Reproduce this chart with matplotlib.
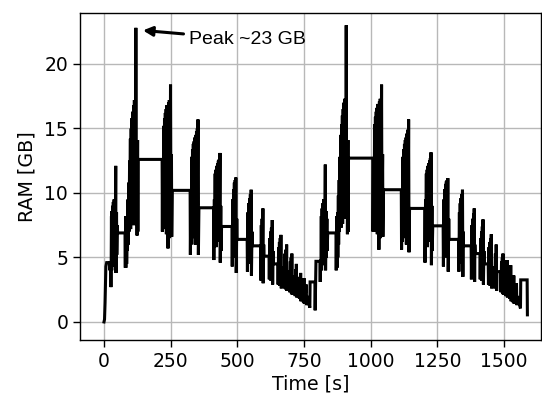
import matplotlib
matplotlib.use("Agg")
import matplotlib.pyplot as plt
import numpy as np

# ---- data: run 1 (time in s, RAM in GB) ----
t_run1 = [0, 2, 4, 7, 10, 21, 22, 23, 25, 26, 27,
          28, 29, 30, 31, 32, 33, 35, 36, 38, 39, 41, 42, 44, 45, 47, 48, 50, 51,
          79, 80,
          81, 82, 84, 85, 87, 88, 90, 91, 93, 94, 96, 97, 99, 100, 102, 103, 105, 106,
          108, 109, 111, 112, 114, 115, 117, 118, 119.5, 121, 123, 124, 126, 127, 128,
          218, 219, 220, 222, 224, 225, 227, 228, 230, 231, 233, 234, 236, 237, 239, 240,
          242, 243, 245, 246, 248, 249.5, 251, 253, 254, 256,
          323, 324, 326, 327, 329, 330, 332, 333, 335, 336, 338, 339, 341, 342, 344, 345,
          347, 348, 350, 351, 352.5, 354, 356,
          411, 412, 414, 415, 417, 418, 420, 421, 423, 424, 426, 427, 429, 430, 432, 433,
          435, 436, 438, 439, 441,
          480, 481, 483, 484, 486, 487, 489, 490, 492, 493, 494.5, 496, 498, 499,
          537, 538, 540, 541, 543, 544, 546, 547, 549, 550, 552, 553, 555, 556,
          588, 589, 590, 591, 593, 594, 596, 597, 599, 600,
          619, 620, 622, 623, 625, 626, 628, 629, 631, 632.5, 634, 635,
          652, 653, 655, 656, 658, 659, 661, 662, 663.5, 665, 666,
          676, 677, 679, 680, 682, 683, 685, 686, 688,
          696, 697, 699, 700, 702, 703, 704.5, 706, 707,
          716, 717, 719, 720, 721.5, 723, 724,
          732, 733, 735, 736, 737.5, 739, 740,
          747, 748, 750, 751.5, 752, 757, 758.5, 760, 762, 767, 770, 772, 773, 791]
ram_run1 = [0.0, 0.2, 1.5, 4.3, 4.6, 4.6, 4.0, 4.6, 4.6, 2.7, 4.6,
            8.2, 4.0, 8.6, 4.3, 9.0, 4.5, 9.3, 5.0, 9.5, 4.8, 8.8, 5.5, 12.1, 3.8, 8.5, 5.2, 7.5, 6.9,
            6.9, 4.2,
            8.2, 4.2, 8.0, 4.5, 7.5, 5.5, 9.5, 6.0, 10.8, 7.0, 12.5, 8.2, 14.2, 7.2, 15.0, 8.5, 15.8, 7.8,
            16.3, 8.8, 16.8, 7.5, 17.2, 9.5, 16.0, 8.0, 22.8, 8.5, 13.0, 6.7, 14.1, 7.0, 12.6,
            12.6, 7.0, 12.5, 7.5, 15.2, 8.0, 15.8, 7.2, 16.2, 8.5, 16.5, 6.8, 16.8, 9.0, 16.2, 5.7,
            17.0, 8.0, 17.2, 6.5, 9.0, 18.4, 7.5, 13.0, 6.6, 10.2,
            10.2, 5.2, 10.0, 6.0, 12.8, 7.5, 13.4, 6.5, 13.8, 8.0, 14.0, 7.0, 14.3, 6.0, 14.5, 8.5,
            14.8, 7.2, 15.0, 9.0, 15.7, 5.2, 8.85,
            8.85, 4.8, 9.5, 6.0, 11.5, 7.0, 11.8, 5.8, 12.1, 7.5, 12.3, 6.2, 12.5, 8.0, 12.6, 6.5,
            13.1, 4.6, 9.0, 5.5, 7.4,
            7.4, 4.3, 9.5, 5.5, 10.3, 6.5, 10.8, 5.0, 11.0, 7.0, 11.2, 3.8, 8.0, 6.4,
            6.4, 3.9, 8.5, 5.0, 9.2, 6.0, 9.6, 4.5, 9.9, 6.5, 10.25, 3.6, 7.0, 5.9,
            5.9, 3.2, 7.5, 4.0, 8.0, 3.5, 8.8, 3.0, 6.0, 5.1,
            5.1, 3.3, 6.5, 3.8, 7.0, 3.2, 7.3, 4.0, 7.9, 2.9, 5.5, 4.5,
            4.5, 2.9, 5.8, 3.3, 6.2, 2.8, 6.5, 3.5, 6.75, 2.6, 4.2,
            4.2, 2.6, 5.3, 2.9, 5.6, 2.5, 6.0, 2.4, 3.9,
            3.9, 2.3, 4.7, 2.6, 5.0, 2.2, 5.3, 2.1, 3.5,
            3.5, 2.0, 4.1, 2.3, 4.5, 1.9, 3.2,
            3.0, 1.8, 3.5, 2.0, 3.8, 1.6, 2.8,
            2.6, 1.5, 3.4, 1.4, 2.5, 2.3, 2.9, 1.3, 2.0, 1.7, 1.3, 1.1, 3.1, 3.1]

# ---- data: run 2 ----
t_run2 = [792, 795, 810, 811, 812, 814,
          815, 816, 818, 819, 821, 822, 824, 825, 827, 828, 830, 831, 833, 834, 836, 837, 839,
          870, 871,
          873, 874, 876, 877, 879, 880, 882, 883, 885, 886, 888, 889, 891, 892, 894, 895,
          897, 898, 900, 901, 903, 904, 906, 907, 908.5, 910, 912, 913, 915, 916, 917,
          1008, 1009, 1011, 1013, 1015, 1016, 1018, 1019, 1021, 1022, 1024, 1025, 1027, 1028,
          1030, 1031, 1033, 1034, 1036, 1037, 1039, 1041, 1042.5, 1045, 1046, 1048,
          1115, 1116, 1118, 1119, 1121, 1122, 1124, 1125, 1127, 1128, 1130, 1131, 1133, 1134,
          1136, 1137, 1139, 1141, 1142.5, 1144, 1146,
          1203, 1204, 1206, 1207, 1209, 1210, 1212, 1213, 1215, 1216, 1218, 1219, 1221, 1222,
          1224, 1225, 1226.5, 1228, 1230, 1231, 1233,
          1272, 1273, 1275, 1276, 1278, 1279, 1281, 1282, 1284, 1285, 1287, 1288, 1289.5, 1291, 1293, 1294,
          1330, 1331, 1333, 1334, 1336, 1337, 1339, 1340, 1342, 1343, 1344.5, 1346, 1347, 1348,
          1377, 1378, 1380, 1381, 1383, 1384, 1386, 1387, 1388.5, 1390, 1391, 1392,
          1410, 1411, 1413, 1414, 1416, 1417, 1419, 1420, 1421.5, 1423, 1425, 1427,
          1441, 1442, 1444, 1445, 1447, 1448, 1450, 1451, 1452.5, 1454, 1456,
          1465, 1466, 1468, 1469, 1471, 1472.5, 1474,
          1488, 1489, 1491, 1492, 1494, 1495, 1496.5, 1498, 1499,
          1506, 1507, 1509, 1510, 1511.5, 1513, 1514,
          1520, 1521, 1523, 1524, 1525.5, 1527, 1528,
          1534, 1535, 1537, 1538.5, 1540, 1545, 1547, 1548.5, 1550, 1555, 1559, 1562, 1563, 1587, 1588]
ram_run2 = [0.9, 4.7, 4.7, 3.1, 4.7, 4.7,
            8.2, 4.0, 8.8, 4.4, 9.2, 5.0, 9.5, 4.6, 9.0, 5.5, 12.2, 4.0, 8.6, 5.0, 8.0, 5.5, 6.9,
            6.9, 4.0,
            8.2, 4.2, 8.5, 5.0, 9.8, 6.0, 11.0, 7.0, 12.8, 8.0, 14.5, 7.3, 15.3, 8.5, 16.0, 7.6,
            16.5, 9.0, 17.0, 8.2, 17.3, 9.5, 15.5, 8.0, 23.0, 8.5, 13.0, 6.8, 14.1, 7.0, 12.7,
            12.7, 7.0, 12.5, 7.5, 15.3, 8.0, 15.9, 7.0, 16.3, 8.5, 16.6, 6.8, 16.9, 9.0,
            16.4, 5.6, 17.1, 8.0, 17.3, 6.5, 9.0, 18.4, 7.5, 13.0, 6.6, 10.25,
            10.25, 5.6, 10.2, 6.2, 12.8, 7.5, 13.4, 6.5, 13.8, 8.0, 14.1, 7.0, 14.3, 6.0,
            14.6, 8.5, 14.9, 9.0, 15.7, 5.4, 8.8,
            8.8, 4.6, 9.5, 6.0, 11.5, 7.0, 11.8, 5.8, 12.1, 7.5, 12.3, 6.2, 12.5, 8.0,
            12.7, 6.5, 13.15, 4.4, 9.0, 5.5, 7.45,
            7.45, 4.3, 9.5, 5.5, 10.3, 6.5, 10.7, 5.0, 10.9, 7.0, 11.0, 6.0, 11.15, 3.9, 8.0, 6.4,
            6.4, 3.9, 8.5, 5.0, 9.2, 6.0, 9.6, 4.5, 9.9, 6.5, 10.25, 3.5, 7.0, 5.9,
            5.9, 3.3, 7.5, 4.0, 8.0, 3.5, 8.4, 4.0, 8.8, 3.1, 6.0, 5.3,
            5.3, 3.3, 6.5, 3.8, 7.0, 3.2, 7.4, 4.0, 7.95, 2.9, 5.5, 4.5,
            4.5, 2.9, 5.8, 3.3, 6.2, 2.8, 6.5, 3.5, 6.8, 2.6, 4.2,
            4.2, 2.6, 5.3, 2.9, 6.0, 2.4, 3.9,
            3.9, 2.3, 4.7, 2.6, 5.0, 2.2, 5.3, 2.1, 3.5,
            3.4, 2.0, 4.3, 2.3, 4.8, 1.9, 3.2,
            3.0, 1.8, 4.0, 2.0, 4.4, 1.6, 2.8,
            2.6, 1.5, 3.6, 1.4, 2.5, 2.3, 3.0, 1.3, 2.0, 1.7, 1.3, 1.05, 3.26, 3.26, 0.55]

x_ticks = [0, 250, 500, 750, 1000, 1250, 1500]
y_ticks = [0, 5, 10, 15, 20]
peak_label = "Peak ~23 GB"
peak_xy = (146, 22.6)
peak_text_xy = (319, 21.9)

assert len(t_run1) == len(ram_run1), (len(t_run1), len(ram_run1))
assert len(t_run2) == len(ram_run2), (len(t_run2), len(ram_run2))

time = np.concatenate([t_run1, t_run2])
ram = np.concatenate([ram_run1, ram_run2])

plt.rcParams['font.family'] = ['DejaVu Sans']
fig = plt.figure(figsize=(5.42, 3.95), dpi=100)
ax = fig.add_axes([80 / 542, 55 / 395, 461 / 542, 327 / 395])

ax.plot(time, ram, color='black', lw=2.2, solid_joinstyle='miter')
ax.set_xlim(-90, 1639)
ax.set_ylim(-1.4, 23.95)
ax.set_xticks(x_ticks)
ax.set_yticks(y_ticks)
ax.grid(True, color='#b8b8b8', lw=1.0)
ax.set_axisbelow(True)
ax.tick_params(labelsize=13.5, length=5, width=1.0)
for s in ax.spines.values():
    s.set_linewidth(1.0)
ax.set_xlabel("Time [s]", fontsize=13.7, labelpad=3)
ax.set_ylabel("RAM [GB]", fontsize=13.7, labelpad=6)

ax.annotate(peak_label, xy=peak_xy, xytext=peak_text_xy,
            fontsize=14, family=['Liberation Sans', 'DejaVu Sans'], va='center', ha='left',
            arrowprops=dict(arrowstyle='-|>', color='black', lw=2.2,
                            mutation_scale=14, shrinkA=2, shrinkB=0))

fig.savefig("out.png", dpi=100)
